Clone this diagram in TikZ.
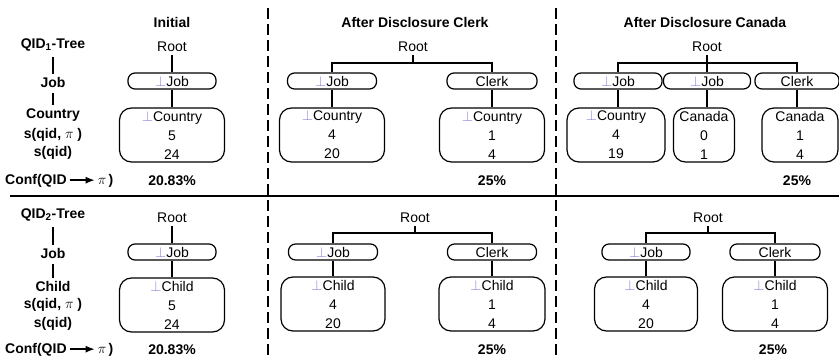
\documentclass[tikz,border=0pt]{standalone}
\usepackage{fontspec}
\setmainfont{Liberation Sans}
\usepackage{xcolor}
\usetikzlibrary{arrows.meta}
\definecolor{botblue}{rgb}{0.5,0.5,0.85}
\newcommand{\botsym}{{\color{botblue}$\bot$}}
\newcommand{\confarrow}{\tikz[baseline=-0.6ex]\draw[line width=1.5pt,-{Latex[length=9pt,width=7pt]}](0pt,0pt)--(25pt,0pt);}

\begin{document}
\begin{tikzpicture}[x=1pt,y=-1pt,
    font=\fontsize{14}{16}\selectfont,
    lbl/.style={font=\fontsize{14}{16}\selectfont\bfseries,inner sep=3pt},
    head/.style={font=\fontsize{14}{16}\selectfont\bfseries},
    cat/.style={draw,line width=1.2pt,rounded corners=7pt,minimum height=16pt,inner sep=0pt},
    leaf/.style={draw,line width=1.2pt,rounded corners=12pt,minimum height=54pt,inner sep=0pt,align=center,font=\fontsize{14}{19}\selectfont},
    link/.style={line width=1.2pt},
    sep/.style={line width=2.6pt,dash pattern=on 11pt off 5pt}
  ]
  \useasboundingbox (0,0) rectangle (839,359);
  % column heads
  \node[head] (hInit) at (172,22) {Initial};
  \node[head] (hClerk) at (415,22) {After Disclosure Clerk};
  \node[head] (hCanada) at (705,22) {After Disclosure Canada};
  % dividers
  \draw[line width=1.3pt] (10,196) -- (839,196);
  \draw[sep] (268,8) -- (268,359);
  \draw[sep] (556,8) -- (556,359);

  % QID1 labels
  \node[lbl] (q1) at (53,45) {QID\textsubscript{1}-Tree};
  \node[lbl] (q1job) at (53,82) {Job};
  \node[lbl] (q1cty) at (53,115) {Country};
  \node[lbl] (q1s) at (53,135) {s(qid, $\pi$\ )};
  \node[lbl] (q1t) at (53,153) {s(qid)};
  \node[lbl,anchor=west] (q1conf) at (2,181) {Conf(QID\,\confarrow\,$\pi$\,)};
  \draw[link,shorten <=3pt] (q1) -- (q1job);
  \draw[link,shorten <=3pt] (q1job) -- (q1cty);

  % QID1 initial
  \node (r1) at (172,47) {Root};
  \node[cat,minimum width=88pt] (j1) at (172,81) {\botsym Job};
  \node[leaf,minimum width=105pt] (c1) at (172,135) {\botsym Country\\5\\24};
  \draw[link] (r1) -- (j1);
  \draw[link] (j1) -- (c1);
  \node[head] (p1) at (172,181) {20.83\%};

  % QID1 after Clerk
  \node (r2) at (413,47) {Root};
  \coordinate (b2) at (413,63);
  \node[cat,minimum width=89pt] (j2) at (332,81) {\botsym Job};
  \node[cat,minimum width=90pt] (k2) at (492,81) {Clerk};
  \node[leaf,minimum width=105pt] (c2) at (332,135) {\botsym Country\\4\\20};
  \node[leaf,minimum width=105pt] (d2) at (492,135) {\botsym Country\\1\\4};
  \draw[link] (r2) -- (b2) -| (j2);
  \draw[link] (b2) -| (k2);
  \draw[link] (j2) -- (c2);
  \draw[link] (k2) -- (d2);
  \node[head] (p2) at (492,181) {25\%};

  % QID1 after Canada
  \node (r3) at (707,47) {Root};
  \coordinate (b3) at (707,63);
  \node[cat,minimum width=88pt] (j3) at (618,81) {\botsym Job};
  \node[cat,minimum width=87pt] (m3) at (707,81) {\botsym Job};
  \node[cat,minimum width=84pt] (k3) at (797,81) {Clerk};
  \node[leaf,minimum width=98pt] (c3) at (616,135) {\botsym Country\\4\\19};
  \node[leaf,minimum width=61pt] (e3) at (704,135) {Canada\\0\\1};
  \node[leaf,minimum width=76pt] (d3) at (800,135) {Canada\\1\\4};
  \draw[link] (r3) -- (m3);
  \draw[link] (b3) -| (j3);
  \draw[link] (b3) -| (k3);
  \draw[link] (j3) -- (j3 |- c3.north);
  \draw[link] (m3) -- (m3 |- e3.north);
  \draw[link] (k3) -- (k3 |- d3.north);
  \node[head] (p3) at (797,181) {25\%};

  % QID2 labels
  \node[lbl] (q2) at (53,215) {QID\textsubscript{2}-Tree};
  \node[lbl] (q2job) at (53,253) {Job};
  \node[lbl] (q2chd) at (53,286) {Child};
  \node[lbl] (q2s) at (53,305) {s(qid, $\pi$\ )};
  \node[lbl] (q2t) at (53,324) {s(qid)};
  \node[lbl,anchor=west] (q2conf) at (2,350) {Conf(QID\,\confarrow\,$\pi$\,)};
  \draw[link,shorten <=3pt] (q2) -- (q2job);
  \draw[link,shorten <=3pt] (q2job) -- (q2chd);

  % QID2 initial
  \node (r4) at (172,218) {Root};
  \node[cat,minimum width=88pt] (j4) at (172,252) {\botsym Job};
  \node[leaf,minimum width=105pt] (c4) at (172,305) {\botsym Child\\5\\24};
  \draw[link] (r4) -- (j4);
  \draw[link] (j4) -- (c4);
  \node[head] (p4) at (172,350) {20.83\%};

  % QID2 after Clerk
  \node (r5) at (415,218) {Root};
  \coordinate (b5) at (415,233);
  \node[cat,minimum width=89pt] (j5) at (333,252) {\botsym Job};
  \node[cat,minimum width=89pt] (k5) at (492,252) {Clerk};
  \node[leaf,minimum width=104pt] (c5) at (333,304) {\botsym Child\\4\\20};
  \node[leaf,minimum width=106pt] (d5) at (492,304) {\botsym Child\\1\\4};
  \draw[link] (r5) -- (b5) -| (j5);
  \draw[link] (b5) -| (k5);
  \draw[link] (j5) -- (c5);
  \draw[link] (k5) -- (d5);
  \node[head] (p5) at (492,350) {25\%};

  % QID2 after Canada
  \node (r6) at (708,218) {Root};
  \coordinate (b6) at (708,233);
  \node[cat,minimum width=88pt] (j6) at (646,252) {\botsym Job};
  \node[cat,minimum width=90pt] (k6) at (775,252) {Clerk};
  \node[leaf,minimum width=103pt] (c6) at (646,304) {\botsym Child\\4\\20};
  \node[leaf,minimum width=105pt] (d6) at (775,304) {\botsym Child\\1\\4};
  \draw[link] (r6) -- (b6) -| (j6);
  \draw[link] (b6) -| (k6);
  \draw[link] (j6) -- (c6);
  \draw[link] (k6) -- (d6);
  \node[head] (p6) at (773,350) {25\%};
\end{tikzpicture}
\end{document}
